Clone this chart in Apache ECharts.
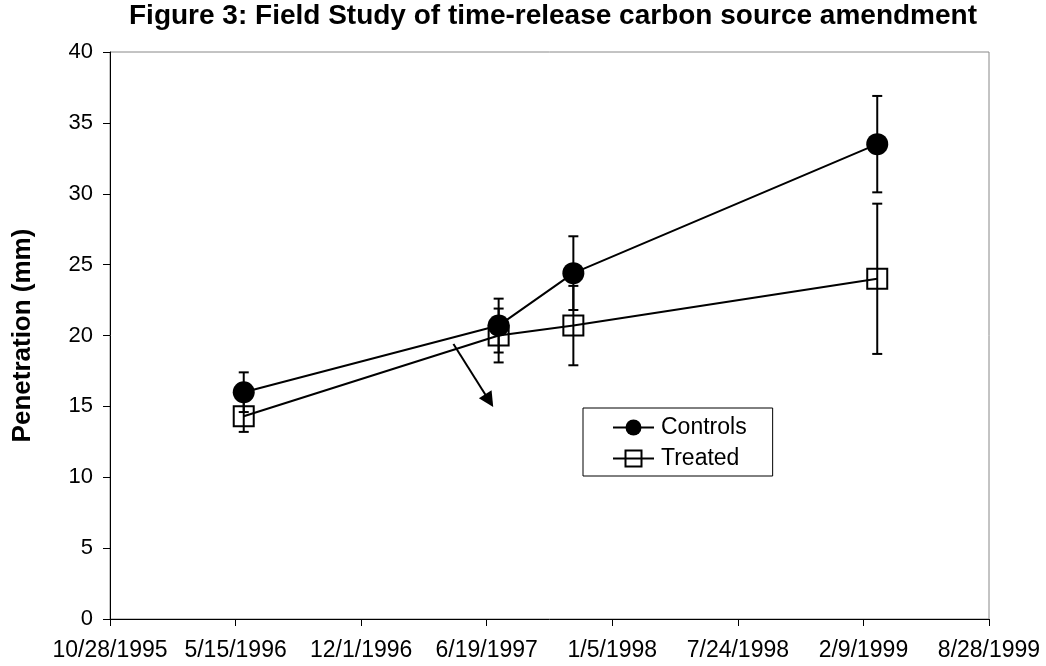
<!DOCTYPE html>
<html>
<head>
<meta charset="utf-8">
<script src="https://cdn.jsdelivr.net/npm/echarts@6/dist/echarts.min.js"></script>
<style>
  html, body { margin: 0; padding: 0; background: #fff; }
  #container { width: 1046px; height: 666px; }
</style>
</head>
<body>
<div id="container"></div>
<script>
// sampling dates and values
const dates = ['1996-05-28', '1997-07-08', '1997-11-04', '1999-03-03']
const controls = [16.0, 20.7, 24.4, 33.5]
const controlsErr = [1.4, 1.9, 2.6, 3.4]
const treated = [14.3, 20.0, 20.7, 24.0]
const treatedErr = [1.1, 1.9, 2.8, 5.3]

// annotation arrow (date, value)
const arrowFrom = ['1997-04-27', 19.4]
const arrowTo = ['1997-06-23', 15.4]

// x axis runs on spreadsheet date serials: 10/28/1995 .. 8/28/1999, step 200 days
const xMin = 35000
const xMax = 36400
const xStep = 200

const DAY = 86400000
const EPOCH = Date.UTC(1899, 11, 30)

function toSerial(s) {
  let p = s.split('-').map(Number)
  return Math.round((Date.UTC(p[0], p[1] - 1, p[2]) - EPOCH) / DAY)
}
function serialLabel(v) {
  let d = new Date(EPOCH + v * DAY)
  return (d.getUTCMonth() + 1) + '/' + d.getUTCDate() + '/' + d.getUTCFullYear()
}

let xs = dates.map(toSerial)
let font = "'Liberation Sans', Arial, sans-serif"

function errData(vals, errs) {
  return xs.map((x, i) => [x, vals[i] - errs[i], vals[i] + errs[i]])
}

// vertical error bar with caps
function renderErr(params, api) {
  let x = api.value(0)
  let lo = api.coord([x, api.value(1)])
  let hi = api.coord([x, api.value(2)])
  let half = 5
  let style = { stroke: '#000', lineWidth: 2 }
  return {
    type: 'group',
    children: [
      { type: 'line', shape: { x1: lo[0], y1: lo[1], x2: hi[0], y2: hi[1] }, style: style },
      { type: 'line', shape: { x1: lo[0] - half, y1: lo[1], x2: lo[0] + half, y2: lo[1] }, style: style },
      { type: 'line', shape: { x1: hi[0] - half, y1: hi[1], x2: hi[0] + half, y2: hi[1] }, style: style }
    ]
  }
}

let chartDom = document.getElementById('container')
let myChart = echarts.init(chartDom, null, { renderer: 'canvas' })

let option = {
  animation: false,
  backgroundColor: '#fff',
  textStyle: { fontFamily: font, color: '#000' },
  title: {
    text: 'Figure 3: Field Study of time-release carbon source amendment',
    left: 548,
    textAlign: 'center',
    top: 0,
    padding: [2, 5, 5, 5],
    textStyle: { fontFamily: font, fontSize: 28, fontWeight: 'bold', color: '#000' }
  },
  grid: {
    left: 110,
    right: 57,
    top: 52,
    bottom: 47,
    show: true,
    borderColor: '#888',
    borderWidth: 1
  },
  legend: {
    orient: 'vertical',
    left: 583,
    top: 408,
    padding: [8, 26, 6, 29],
    itemWidth: 41,
    itemHeight: 20,
    itemGap: 8,
    borderColor: '#000',
    borderWidth: 1,
    backgroundColor: '#fff',
    textStyle: { fontFamily: font, fontSize: 23, color: '#000', padding: [0, 0, 0, 2] },
    data: ['Controls', 'Treated']
  },
  xAxis: {
    type: 'value',
    min: xMin,
    max: xMax,
    interval: xStep,
    axisLine: { lineStyle: { color: '#000', width: 1 } },
    axisTick: { inside: false, length: 7, lineStyle: { color: '#000' } },
    axisLabel: {
      fontFamily: font,
      fontSize: 23,
      color: '#000',
      margin: 20,
      formatter: serialLabel
    },
    splitLine: { show: false }
  },
  yAxis: {
    type: 'value',
    min: 0,
    max: 40,
    interval: 5,
    name: 'Penetration (mm)',
    nameLocation: 'middle',
    nameGap: 74,
    nameTextStyle: { fontFamily: font, fontSize: 26, fontWeight: 'bold', color: '#000' },
    axisLine: { show: true, lineStyle: { color: '#000', width: 1 } },
    axisTick: { show: true, inside: false, length: 7, lineStyle: { color: '#000' } },
    axisLabel: { fontFamily: font, fontSize: 22, color: '#000', margin: 17 },
    splitLine: { show: false }
  },
  series: [
    {
      name: 'Controls err',
      type: 'custom',
      renderItem: renderErr,
      encode: { x: 0, y: [1, 2] },
      data: errData(controls, controlsErr),
      z: 1,
      silent: true
    },
    {
      name: 'Treated err',
      type: 'custom',
      renderItem: renderErr,
      encode: { x: 0, y: [1, 2] },
      data: errData(treated, treatedErr),
      z: 1,
      silent: true
    },
    {
      name: 'Controls',
      type: 'line',
      data: xs.map((x, i) => [x, controls[i]]),
      symbol: 'circle',
      symbolSize: 22,
      lineStyle: { color: '#000', width: 2 },
      itemStyle: { color: '#000' },
      z: 3
    },
    {
      name: 'Treated',
      type: 'line',
      data: xs.map((x, i) => [x, treated[i]]),
      symbol: 'rect',
      symbolSize: 20,
      lineStyle: { color: '#000', width: 2 },
      itemStyle: { color: 'rgba(0,0,0,0)', borderColor: '#000', borderWidth: 2 },
      z: 2,
      markLine: {
        silent: true,
        symbol: ['none', 'triangle'],
        symbolSize: 15,
        label: { show: false },
        itemStyle: { color: '#000', borderWidth: 0 },
        lineStyle: { color: '#000', width: 2, type: 'solid' },
        emphasis: { disabled: true },
        data: [[
          { coord: [toSerial(arrowFrom[0]), arrowFrom[1]] },
          { coord: [toSerial(arrowTo[0]), arrowTo[1]] }
        ]]
      }
    }
  ]
}

option && myChart.setOption(option)
</script>
</body>
</html>
